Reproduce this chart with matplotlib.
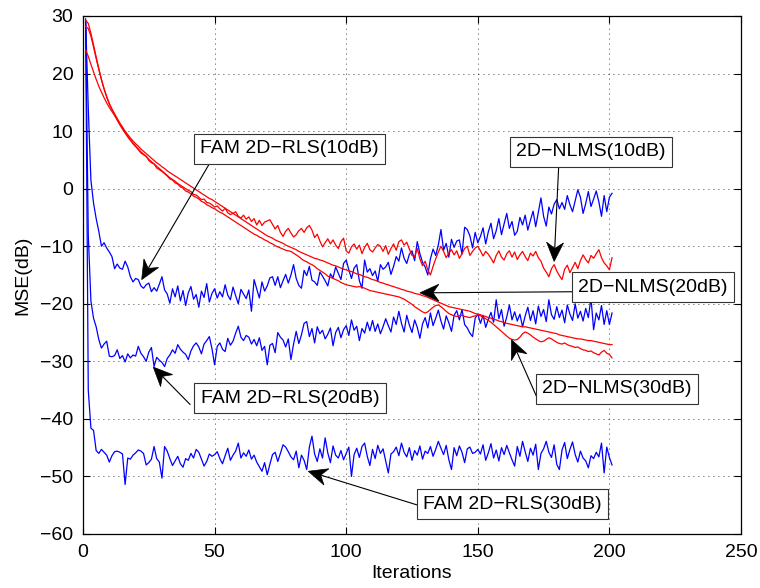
import numpy as np
import matplotlib
matplotlib.use("Agg")
import matplotlib.pyplot as plt
from matplotlib.patches import Polygon

plt.rcParams['font.family'] = ['Liberation Sans', 'DejaVu Sans']

# ---------------- data (MSE in dB per iteration, iterations 1..201) ----------------
nlms_10 = [
    29.3, 28.7, 27.0, 25.0, 22.9, 20.9, 19.0, 17.4, 16.0, 14.8,
    13.8, 12.9, 12.0, 11.2, 10.4, 9.7, 9.1, 8.5, 7.9, 7.4,
    6.9, 6.4, 6.0, 5.6, 5.1, 4.7, 4.3, 3.9, 3.5, 3.1,
    2.7, 2.3, 1.9, 1.6, 1.3, 0.9, 0.6, 0.3, 0.0, -0.3,
    -0.5, -1.0, -1.1, -1.5, -1.9, -1.8, -2.4, -2.5, -2.8, -3.2,
    -3.0, -3.5, -3.9, -3.4, -4.2, -4.5, -4.3, -4.0, -4.8, -5.1,
    -4.6, -5.3, -4.9, -5.7, -5.2, -6.3, -5.5, -6.4, -5.8, -5.6,
    -5.4, -6.2, -7.0, -6.4, -7.6, -8.3, -7.4, -6.9, -7.7, -8.4,
    -8.0, -7.3, -6.9, -7.6, -6.8, -6.4, -7.2, -8.5, -7.9, -9.1,
    -10.1, -9.4, -8.7, -9.6, -8.9, -9.8, -10.4, -9.2, -8.6, -10.8,
    -11.2, -10.1, -9.6, -10.5, -9.8, -11.3, -10.2, -9.5, -10.6, -11.0,
    -10.3, -9.7, -10.0, -10.9, -9.9, -11.4, -10.4, -9.6, -10.7, -9.2,
    -8.9, -9.8, -9.3, -10.5, -11.6, -11.8, -10.4, -12.2, -13.4, -12.6,
    -14.1, -15.0, -13.5, -12.2, -11.0, -10.0, -10.9, -12.0, -11.2, -10.6,
    -11.5, -10.8, -12.1, -11.3, -10.4, -10.0, -11.6, -10.9, -10.3, -10.0,
    -10.8, -11.7, -10.9, -11.4, -12.1, -12.9, -11.6, -10.8, -11.9, -12.4,
    -11.3, -10.8, -11.9, -11.0, -12.3, -11.5, -10.9, -11.8, -12.5, -11.2,
    -11.7, -10.9, -12.0, -12.6, -13.8, -14.5, -15.3, -13.9, -13.2, -14.3,
    -15.1, -15.8, -14.0, -13.3, -14.6, -13.7, -12.8, -13.9, -12.5, -11.5,
    -12.3, -12.9, -11.6, -12.1, -11.3, -10.6, -12.0, -12.9, -13.4, -14.1,
    -12.0]

nlms_20 = [
    28.2, 27.8, 26.5, 24.6, 22.6, 20.7, 18.9, 17.3, 15.9, 14.7,
    13.8, 13.0, 12.2, 11.4, 10.7, 10.0, 9.4, 8.8, 8.3, 7.8,
    7.4, 6.9, 6.5, 6.1, 5.7, 5.3, 4.9, 4.5, 4.2, 3.8,
    3.5, 3.1, 2.8, 2.5, 2.2, 1.9, 1.6, 1.3, 1.0, 0.7,
    0.4, 0.1, -0.2, -0.5, -0.8, -1.1, -1.4, -1.7, -1.9, -2.2,
    -2.5, -2.8, -3.1, -3.4, -3.7, -4.0, -4.3, -4.6, -4.9, -5.2,
    -5.5, -5.8, -6.1, -6.4, -6.7, -7.0, -7.3, -7.6, -7.9, -8.2,
    -8.4, -8.6, -8.9, -9.1, -9.3, -9.5, -9.8, -10.0, -10.2, -10.4,
    -10.6, -10.9, -11.1, -11.3, -11.5, -11.7, -11.9, -12.1, -12.2, -12.4,
    -12.5, -12.7, -12.9, -13.1, -13.3, -13.4, -13.6, -13.8, -14.0, -14.1,
    -14.3, -14.4, -14.6, -14.8, -14.9, -15.1, -15.3, -15.4, -15.6, -15.8,
    -15.9, -16.1, -16.3, -16.4, -16.6, -16.7, -16.9, -17.0, -17.2, -17.3,
    -17.5, -17.6, -17.8, -17.9, -18.0, -18.2, -18.3, -18.4, -18.6, -18.7,
    -18.9, -19.1, -19.3, -19.5, -19.7, -19.9, -20.1, -20.3, -20.5, -20.6,
    -20.7, -20.8, -20.9, -21.0, -21.1, -21.2, -21.3, -21.5, -21.7, -21.8,
    -21.9, -22.1, -22.2, -22.4, -22.5, -22.7, -22.8, -23.0, -23.1, -23.3,
    -23.4, -23.5, -23.6, -23.7, -23.8, -23.9, -24.0, -24.0, -24.1, -24.2,
    -24.3, -24.4, -24.5, -24.6, -24.7, -24.8, -24.9, -25.0, -25.1, -25.2,
    -25.4, -25.5, -25.6, -25.7, -25.8, -25.9, -26.0, -26.1, -26.1, -26.2,
    -26.3, -26.4, -26.4, -26.5, -26.6, -26.7, -26.8, -26.9, -27.0, -27.1,
    -27.1]

nlms_30 = [
    24.1, 23.0, 21.6, 20.3, 19.0, 17.8, 16.8, 15.8, 14.9, 14.1,
    13.4, 12.7, 11.9, 11.1, 10.4, 9.7, 9.0, 8.4, 7.8, 7.3,
    6.8, 6.2, 5.9, 5.6, 4.9, 4.5, 4.3, 3.6, 3.3, 3.0,
    2.6, 2.2, 1.7, 1.5, 1.0, 0.8, 0.3, 0.1, -0.4, -0.6,
    -0.9, -1.3, -1.5, -1.8, -2.2, -2.4, -2.8, -3.0, -3.3, -3.5,
    -3.8, -4.1, -4.3, -4.6, -4.9, -5.2, -5.5, -5.8, -6.1, -6.4,
    -6.7, -7.0, -7.3, -7.6, -7.9, -8.1, -8.4, -8.6, -8.9, -9.1,
    -9.4, -9.6, -9.9, -10.1, -10.3, -10.5, -10.7, -10.8, -10.9, -11.2,
    -11.5, -11.8, -12.2, -12.5, -12.7, -13.0, -13.2, -13.5, -13.9, -14.2,
    -14.5, -14.8, -15.2, -15.4, -15.6, -15.8, -16.0, -16.3, -16.5, -16.7,
    -16.8, -16.9, -17.0, -17.1, -17.0, -17.1, -17.3, -17.5, -17.7, -17.8,
    -17.9, -18.0, -18.1, -18.2, -18.3, -18.4, -18.5, -18.6, -18.7, -18.8,
    -19.0, -19.2, -19.5, -19.8, -20.1, -20.5, -20.8, -21.1, -21.4, -21.6,
    -21.4, -21.0, -20.6, -20.3, -20.2, -20.5, -20.9, -21.3, -21.7, -21.9,
    -22.1, -22.2, -22.1, -22.0, -22.2, -22.3, -22.4, -22.2, -22.1, -22.0,
    -22.1, -22.3, -22.6, -22.9, -23.2, -23.6, -24.0, -24.4, -24.8, -25.2,
    -25.6, -26.0, -26.2, -26.3, -26.2, -25.8, -25.2, -24.9, -25.1, -25.4,
    -25.8, -26.1, -26.4, -26.6, -26.5, -26.2, -25.9, -26.1, -26.4, -26.7,
    -26.9, -27.0, -26.8, -27.1, -27.3, -27.4, -27.6, -27.5, -27.8, -28.0,
    -28.1, -28.3, -28.2, -28.5, -28.7, -28.9, -28.4, -28.1, -28.6, -28.8,
    -29.4]

rls_10 = [
    29.5, 14.0, 1.5, -2.5, -5.2, -7.4, -10.0, -9.4, -10.3, -11.0,
    -11.8, -13.9, -13.1, -13.8, -14.0, -12.6, -13.6, -15.3, -16.2, -15.6,
    -15.8, -16.9, -17.3, -16.7, -16.4, -17.9, -17.2, -17.8, -16.6, -15.3,
    -17.6, -18.3, -19.9, -17.4, -18.8, -16.9, -19.5, -17.7, -20.3, -18.1,
    -17.0, -19.2, -18.4, -20.6, -17.8, -18.9, -16.5, -19.7, -18.2, -17.4,
    -19.0, -17.9, -18.8, -16.7, -18.5, -19.3, -17.1, -18.6, -20.0, -17.5,
    -18.3, -19.1, -17.6, -21.3, -15.8, -17.4, -19.0, -16.2, -17.8, -16.9,
    -15.5, -15.3, -16.8, -15.3, -17.2, -16.0, -14.9, -16.4, -15.0, -13.2,
    -15.6, -16.8, -17.3, -14.2, -15.1, -13.5, -15.9, -16.2, -16.8, -14.5,
    -15.2, -16.0, -16.9, -14.8, -15.5, -13.6, -14.7, -15.8, -13.0, -12.4,
    -14.1, -15.6, -13.8, -13.2, -16.0, -17.3, -12.4, -14.5, -13.9, -15.1,
    -14.3, -16.1, -13.2, -14.0, -13.6, -12.8, -14.9, -13.5, -11.8, -12.6,
    -10.3, -12.1, -13.0, -11.4, -10.8, -12.5, -9.2, -11.3, -12.8, -13.6,
    -15.0, -12.2, -10.5, -11.6, -9.8, -7.1, -10.7, -9.5, -11.9, -8.8,
    -10.2, -9.1, -8.9, -11.4, -6.7, -7.1, -8.2, -10.3, -7.6, -9.4,
    -8.3, -6.8, -9.6, -7.5, -6.0, -8.7, -7.3, -5.2, -8.0, -6.1,
    -4.3, -6.9, -5.7, -8.1, -7.4, -5.0, -6.3, -4.6, -7.2, -5.5,
    -3.9, -6.6, -4.1, -1.6, -4.8, -6.5, -3.2, -4.4, -2.7, -1.9,
    -3.5, -2.4, -3.6, -1.2, -2.8, -4.0, -2.1, -0.2, -1.5, -4.3,
    -2.6, -0.5, -3.1, -1.8, -0.4, -2.3, -4.8, -1.2, -4.0, -1.5,
    -0.8]

rls_20 = [
    29.0, -8.0, -19.5, -22.5, -24.0, -26.2, -27.7, -27.0, -26.5, -29.1,
    -29.2, -29.0, -28.0, -29.5, -29.0, -30.1, -28.7, -29.4, -28.9, -29.1,
    -27.4, -28.6, -29.2, -30.0, -28.4, -27.6, -30.9, -29.3, -29.8, -30.2,
    -30.9, -29.5, -28.9, -28.0, -28.6, -27.1, -27.9, -28.4, -28.8, -29.7,
    -28.2, -27.3, -26.8, -27.5, -28.7, -27.0, -26.4, -25.7, -27.8, -30.6,
    -27.4, -26.8, -27.9, -28.3, -26.0, -27.2, -26.5, -25.1, -23.9, -25.8,
    -26.4, -25.5, -25.8, -27.0, -26.2, -27.3, -25.9, -28.1, -27.4, -30.6,
    -27.2, -26.9, -28.5, -25.0, -25.8, -26.3, -27.5, -26.1, -29.7, -27.0,
    -24.8, -26.9, -25.4, -23.4, -23.1, -25.7, -24.3, -26.8, -24.0, -25.2,
    -24.6, -26.1, -25.3, -24.2, -27.3, -25.0, -24.1, -25.9, -24.5, -23.8,
    -25.5, -22.8, -24.6, -23.9, -26.4, -24.3, -25.1, -23.2, -24.7, -22.9,
    -24.8, -23.5, -25.2, -24.0, -22.6, -23.8, -24.9, -22.3, -23.6, -21.3,
    -23.4, -24.9, -22.0, -23.7, -25.0, -22.8, -24.1, -26.0, -23.5, -22.4,
    -24.2, -21.6, -23.8, -22.5, -21.1, -23.0, -24.4, -22.1, -23.3, -24.8,
    -22.0, -21.2, -22.8, -21.0, -23.6, -24.2, -25.1, -25.7, -22.5, -21.8,
    -23.4, -22.0, -24.1, -22.7, -21.5, -23.2, -19.3, -22.6, -21.0, -23.9,
    -22.3, -20.2, -22.8, -21.4, -23.0, -21.8, -24.0, -22.1, -20.6, -22.9,
    -21.2, -23.5, -20.4, -22.2, -21.0, -23.1, -19.3, -21.9, -22.7, -20.5,
    -22.4, -21.1, -23.3, -20.2, -21.8, -22.9, -20.0, -22.5, -21.3, -23.0,
    -20.8, -22.4, -19.0, -24.5, -21.6, -22.8, -20.3, -23.6, -21.2, -23.6,
    -21.6]

rls_30 = [
    29.0, -35.0, -41.6, -42.0, -45.5, -46.0, -45.3, -45.8, -46.3, -47.5,
    -46.4, -45.7, -45.6, -45.8, -46.1, -51.4, -46.8, -47.0, -46.3, -45.9,
    -45.4, -45.6, -46.0, -48.0, -47.6, -47.0, -44.8, -46.9, -47.5, -50.3,
    -44.8, -45.6, -46.9, -48.1, -47.3, -46.5, -47.8, -48.4, -46.9, -47.2,
    -46.0, -46.8, -45.3, -45.8, -47.0, -48.2, -47.4, -46.1, -46.5, -46.2,
    -45.7, -46.9, -47.8, -46.4, -45.1, -47.2, -46.3, -45.6, -44.2, -46.8,
    -45.9, -46.5, -45.4, -47.0, -46.3, -47.5, -48.3, -49.1, -47.6, -49.7,
    -47.9, -46.2, -45.8, -47.4, -46.0, -44.5, -44.9, -45.7, -46.6, -47.1,
    -45.6, -48.5, -46.3, -47.2, -48.8, -44.9, -43.0, -46.1, -47.4, -45.2,
    -46.8, -43.3, -45.9, -47.6, -44.7, -46.3, -46.8, -45.5, -47.1, -46.0,
    -44.9, -50.0, -46.2, -45.1, -46.7, -44.8, -44.2, -46.5, -48.1, -45.3,
    -46.9, -44.6, -46.0, -45.2, -47.3, -49.4, -46.1, -45.7, -44.9, -46.4,
    -44.2, -45.8, -46.6, -45.0, -47.2, -45.5, -46.3, -44.7, -47.0, -45.6,
    -46.0, -44.8, -46.5, -45.3, -43.9, -45.1, -46.2, -44.6, -47.1, -48.8,
    -45.0, -46.4, -44.7, -45.8, -47.6, -45.2, -44.9, -46.0, -45.8, -45.3,
    -46.1, -44.5, -47.2, -45.9, -44.3, -46.8, -45.4, -47.3, -45.0, -46.2,
    -44.6, -45.9, -47.1, -48.2, -44.8, -46.5, -43.9, -45.7, -47.4, -45.1,
    -46.3, -44.4, -48.8, -46.0, -45.2, -43.9, -45.8, -46.7, -44.5, -47.9,
    -48.8, -45.4, -44.1, -46.9, -45.3, -44.0, -46.2, -47.5, -45.6, -46.8,
    -47.3, -48.5, -46.4, -46.9, -45.8, -46.6, -44.2, -49.4, -44.9, -46.7,
    -48.0]

# annotation labels, box centres (data coords), arrow tails and tips (data coords)
labels = ["FAM 2D\u2212RLS(10dB)", "2D\u2212NLMS(10dB)", "2D\u2212NLMS(20dB)",
          "2D\u2212NLMS(30dB)", "FAM 2D\u2212RLS(20dB)", "FAM 2D\u2212RLS(30dB)"]
box_xy = [(78.5, 6.9), (193.0, 6.4), (216.6, -17.1),
          (202.9, -34.8), (78.6, -36.4), (163.2, -54.8)]
arrow_tail = [(51.3, 6.9), (181.0, 6.4), (188.8, -17.9),
              (172.5, -36.3), (40.7, -37.5), (128.0, -55.1)]
arrow_tip = [(22.3, -15.8), (179.0, -12.65), (128.0, -18.1),
             (162.8, -26.25), (26.7, -31.0), (85.6, -49.1)]

xticks = [0, 50, 100, 150, 200, 250]
yticks = [-60, -50, -40, -30, -20, -10, 0, 10, 20, 30]

# ---------------- figure ----------------
fig = plt.figure(figsize=(7.6, 5.88), dpi=100)
ax = fig.add_axes([83 / 760, 1 - 534 / 588, 658 / 760, 518 / 588])

series = [(rls_10, 'blue'), (rls_20, 'blue'), (rls_30, 'blue'),
          (nlms_10, 'red'), (nlms_20, 'red'), (nlms_30, 'red')]
for y, c in series:
    x = np.arange(1, len(y) + 1)
    ax.plot(x, y, color=c, lw=0.9, zorder=3)

ax.set_xlim(0, 250)
ax.set_ylim(-60, 30)
ax.set_xticks(xticks)
ax.set_yticks(yticks)
ax.tick_params(direction='in', length=5, width=0.8, top=True, right=True,
               labelsize=14, pad=7)
for s in ax.spines.values():
    s.set_linewidth(0.9)
ax.grid(True, color='black', linestyle=(0, (1, 5)), linewidth=0.6)
ax.set_axisbelow(True)
ax.set_xlabel('Iterations', fontsize=14, labelpad=3)
ax.set_ylabel('MSE(dB)', fontsize=14, labelpad=6)

# MATLAB-like notched arrow heads (drawn in pixel space)
HEAD_L, HEAD_W, NOTCH = 19.0, 8.5, 13.0
to_fig = fig.transFigure.inverted()
for lab, bxy, tail, tip in zip(labels, box_xy, arrow_tail, arrow_tip):
    p_tail = ax.transData.transform(tail)
    p_tip = ax.transData.transform(tip)
    d = p_tip - p_tail
    u = d / np.hypot(*d)
    n = np.array([-u[1], u[0]])
    back = p_tip - NOTCH * u
    ax.annotate('', xy=tip, xytext=tail, zorder=4,
                arrowprops=dict(arrowstyle='-', color='black', lw=0.8,
                                shrinkA=0, shrinkB=NOTCH * 0.72))
    head = np.array([p_tip,
                     p_tip - HEAD_L * u + HEAD_W * n,
                     back,
                     p_tip - HEAD_L * u - HEAD_W * n])
    fig.patches.append(Polygon(to_fig.transform(head), closed=True,
                               facecolor='black', edgecolor='black', lw=0.5,
                               transform=fig.transFigure, zorder=6))
    ax.text(bxy[0], bxy[1], lab, ha='center', va='center', fontsize=14,
            zorder=5,
            bbox=dict(boxstyle='square,pad=0.33', facecolor='white',
                      edgecolor='#333333', linewidth=0.8))

fig.savefig('out.png', dpi=100)
